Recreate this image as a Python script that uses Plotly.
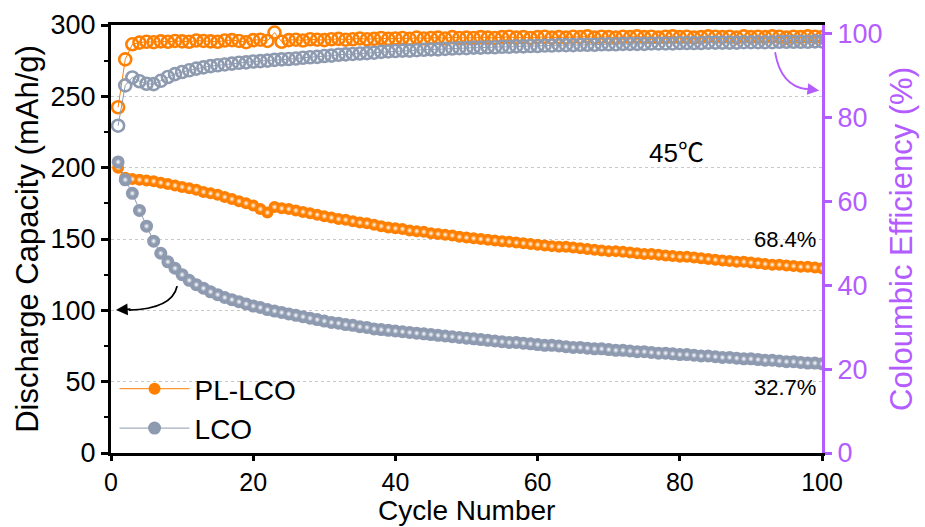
import plotly.graph_objects as go

cycles = list(range(1, 101))

pl_lco_cap = [200, 193, 192, 191.5, 191, 190.5, 189.5, 188.5, 187.5, 186.5,
              185.5, 184.5, 183, 182, 181, 179.5, 178, 176.5, 175, 173.5,
              171, 168.5, 172.5, 171.5, 171, 170, 169, 168, 167, 166,
              165, 164, 163.5, 162.5, 161.5, 161, 160, 159, 158, 157.5,
              157, 156, 155.5, 155, 154, 153.5, 153, 152.5, 151.5, 151,
              150.5, 150, 149.5, 149, 148.5, 148, 147.5, 147, 146.5, 146,
              145.5, 145, 144.5, 144.5, 144, 143.5, 143, 142.5, 142, 141.5,
              141.5, 141, 140.5, 140, 139.5, 139.5, 139, 138.5, 138, 137.5,
              137.5, 137, 136.5, 136, 135.5, 135, 134.5, 134, 134, 133.5,
              133, 132.5, 132, 132, 131.5, 131, 130.5, 130.5, 130, 129.5]

lco_cap = [204, 191.5, 182, 170, 159, 148.5, 140, 134, 129.5, 125,
           121, 118, 115.5, 113, 111, 109, 107.5, 106, 104.5, 103,
           102, 100.5, 99.5, 98.5, 97.5, 96.5, 95.5, 94.5, 93.5, 92.5,
           91.5, 91, 90, 89.5, 88.5, 88, 87, 86.5, 86, 85.5,
           85, 84.5, 84, 83.5, 83, 82.5, 82, 81.5, 81, 80.5,
           80, 79.5, 79, 78.5, 78, 77.5, 77.5, 77, 76.5, 76,
           75.5, 75.5, 75, 74.5, 74, 74, 73.5, 73, 73, 72.5,
           72, 72, 71.5, 71, 71, 70.5, 70, 70, 69.5, 69,
           69, 68.5, 68, 68, 67.5, 67, 67, 66.5, 66, 66,
           65.5, 65, 65, 64.5, 64, 64, 63.5, 63, 63, 62.5]

pl_lco_ce = [82.4, 93.8, 97.4, 97.8, 98.0, 97.9, 98.1, 98.0, 98.2, 98.1,
             98.0, 98.3, 98.2, 98.1, 98.0, 98.3, 98.4, 98.2, 97.9, 98.4,
             98.5, 98.2, 100.2, 98.0, 98.4, 98.5, 98.3, 98.6, 98.5, 98.4,
             98.6, 98.7, 98.5, 98.6, 98.8, 98.6, 98.7, 98.9, 98.7, 98.8,
             98.9, 98.7, 99.0, 98.8, 98.9, 99.0, 98.8, 99.1, 98.9, 99.0,
             98.9, 99.1, 99.0, 98.9, 99.1, 99.2, 99.0, 99.1, 98.9, 99.1,
             99.2, 99.0, 99.1, 99.0, 99.2, 99.1, 99.3, 99.0, 99.2, 99.1,
             99.0, 99.2, 99.1, 99.3, 99.1, 99.2, 99.0, 99.2, 99.3, 99.1,
             99.2, 99.0, 99.1, 99.3, 99.2, 99.1, 99.2, 99.0, 99.3, 99.1,
             99.2, 99.1, 99.3, 99.2, 99.0, 99.2, 99.1, 99.3, 99.2, 99.1]

lco_ce = [78.0, 87.6, 89.5, 88.6, 88.0, 87.9, 88.7, 89.6, 90.3, 90.8,
          91.2, 91.6, 91.9, 92.2, 92.4, 92.6, 92.8, 93.0, 93.1, 93.3,
          93.4, 93.5, 93.7, 93.8, 93.9, 94.0, 94.2, 94.3, 94.4, 94.6,
          94.7, 94.9, 95.0, 95.1, 95.2, 95.3, 95.4, 95.6, 95.7, 95.8,
          95.9, 95.9, 96.0, 96.1, 96.2, 96.2, 96.3, 96.4, 96.5, 96.5,
          96.6, 96.6, 96.7, 96.7, 96.8, 96.8, 96.9, 96.9, 97.0, 97.0,
          97.1, 97.1, 97.2, 97.2, 97.2, 97.3, 97.3, 97.3, 97.4, 97.4,
          97.4, 97.5, 97.5, 97.5, 97.5, 97.6, 97.6, 97.6, 97.6, 97.7,
          97.7, 97.7, 97.7, 97.8, 97.8, 97.8, 97.8, 97.8, 97.9, 97.9,
          97.9, 97.9, 97.9, 98.0, 98.0, 98.0, 98.0, 98.0, 98.1, 98.1]

ORANGE = "#FF8000"
GRAY = "#8E9AB0"
PURPLE = "#B35CFF"
FONT = "Liberation Sans, Arial, sans-serif"

fig = go.Figure()

# Coulombic efficiency (hollow rings, right axis)
fig.add_trace(go.Scatter(x=cycles, y=pl_lco_ce, yaxis="y2", mode="lines+markers",
                         line=dict(color=ORANGE, width=1),
                         marker=dict(symbol="circle-open", size=12, color=ORANGE,
                                     line=dict(width=2.6, color=ORANGE)),
                         showlegend=False))
fig.add_trace(go.Scatter(x=cycles, y=lco_ce, yaxis="y2", mode="lines+markers",
                         line=dict(color=GRAY, width=1),
                         marker=dict(symbol="circle-open", size=12, color=GRAY,
                                     line=dict(width=2.6, color=GRAY)),
                         showlegend=False))

# Discharge capacity (spheres, left axis): solid body + soft highlight
fig.add_trace(go.Scatter(x=cycles, y=pl_lco_cap, mode="lines+markers", name="PL-LCO",
                         line=dict(color=ORANGE, width=1),
                         marker=dict(symbol="circle", size=12, color=ORANGE, line=dict(width=0)),
                         legendrank=1))
fig.add_trace(go.Scatter(x=cycles, y=pl_lco_cap, mode="markers", showlegend=False,
                         hoverinfo="skip",
                         marker=dict(symbol="circle", size=6, color=ORANGE,
                                     gradient=dict(type="radial", color="#FFFFFF"),
                                     line=dict(width=0))))
fig.add_trace(go.Scatter(x=cycles, y=lco_cap, mode="lines+markers", name="LCO",
                         line=dict(color=GRAY, width=1),
                         marker=dict(symbol="circle", size=13, color=GRAY, line=dict(width=0)),
                         legendrank=2))
fig.add_trace(go.Scatter(x=cycles, y=lco_cap, mode="markers", showlegend=False,
                         hoverinfo="skip",
                         marker=dict(symbol="circle", size=6, color=GRAY,
                                     gradient=dict(type="radial", color="#FFFFFF"),
                                     line=dict(width=0))))

# curved arrows
fig.add_shape(type="path", xref="x", yref="y",
              path="M 9.3,117 Q 8.6,101 2.5,100.2",
              line=dict(color="black", width=1.8))
fig.add_annotation(x=0.7, y=100.2, xref="x", yref="y", text="", showarrow=True,
                   arrowhead=2, arrowsize=1.3, arrowwidth=1.8, arrowcolor="black",
                   ax=16, ay=-1)
fig.add_shape(type="path", xref="x", yref="y2",
              path="M 93.4,95.5 Q 94.2,87.5 97.8,86.7",
              line=dict(color=PURPLE, width=1.8))
fig.add_annotation(x=99.6, y=86.4, xref="x", yref="y2", text="", showarrow=True,
                   arrowhead=2, arrowsize=1.3, arrowwidth=1.8, arrowcolor=PURPLE,
                   ax=-16, ay=-2)

# text annotations
fig.add_annotation(x=79.5, y=212, xref="x", yref="y",
                   text="45<span style='font-family:Noto Sans CJK SC'>\u2103</span>",
                   showarrow=False, font=dict(size=26, color="black", family=FONT))
fig.add_annotation(x=99.5, y=150, xref="x", yref="y", text="68.4%", showarrow=False,
                   xanchor="right", font=dict(size=22, color="black", family=FONT))
fig.add_annotation(x=99.5, y=46, xref="x", yref="y", text="32.7%", showarrow=False,
                   xanchor="right", font=dict(size=22, color="black", family=FONT))

# x-axis title as an annotation anchored to the bottom of the figure
fig.add_annotation(x=0.5, y=-74 / 428, xref="paper", yref="paper", text="Cycle Number",
                   showarrow=False, xanchor="center", yanchor="bottom", borderpad=0,
                   font=dict(size=28, color="black", family=FONT))

fig.update_layout(
    width=925, height=527,
    margin=dict(l=111, r=103, t=25, b=74, autoexpand=False),
    paper_bgcolor="white", plot_bgcolor="white",
    font=dict(family=FONT, color="black"),
    xaxis=dict(range=[0, 100], tickvals=[0, 20, 40, 60, 80, 100], automargin=False,
               showline=True, linecolor="black", linewidth=3, mirror=True,
               ticks="outside", ticklen=5, tickwidth=2.5, tickcolor="black",
               tickfont=dict(size=25), showgrid=False, zeroline=False),
    yaxis=dict(range=[0, 300], tickvals=[0, 50, 100, 150, 200, 250, 300], automargin=False,
               showline=True, linecolor="black", linewidth=3,
               ticks="outside", ticklen=7, tickwidth=2.5, tickcolor="black",
               minor=dict(dtick=25, ticks="outside", ticklen=4, tickwidth=2, tickcolor="black", showgrid=False),
               tickfont=dict(size=27), showgrid=True, gridcolor="#C8C8C8",
               griddash="dot", gridwidth=1, zeroline=False,
               title=dict(text="Discharge Capacity (mAh/g)", font=dict(size=31), standoff=3)),
    yaxis2=dict(range=[0, 102], tickvals=[0, 20, 40, 60, 80, 100], overlaying="y", automargin=False,
                side="right", showline=True, linecolor=PURPLE, linewidth=3,
                ticks="outside", ticklen=7, tickwidth=2.5, tickcolor=PURPLE,
                tickfont=dict(size=27, color=PURPLE), showgrid=False, zeroline=False,
                title=dict(text="Coloumbic Efficiency (%)", font=dict(size=31, color=PURPLE),
                           standoff=9)),
    legend=dict(x=0.005, y=0.0, xanchor="left", yanchor="bottom", itemwidth=70,
                bgcolor="rgba(0,0,0,0)", font=dict(size=28), tracegroupgap=0),
)

fig.write_html("out.html")
